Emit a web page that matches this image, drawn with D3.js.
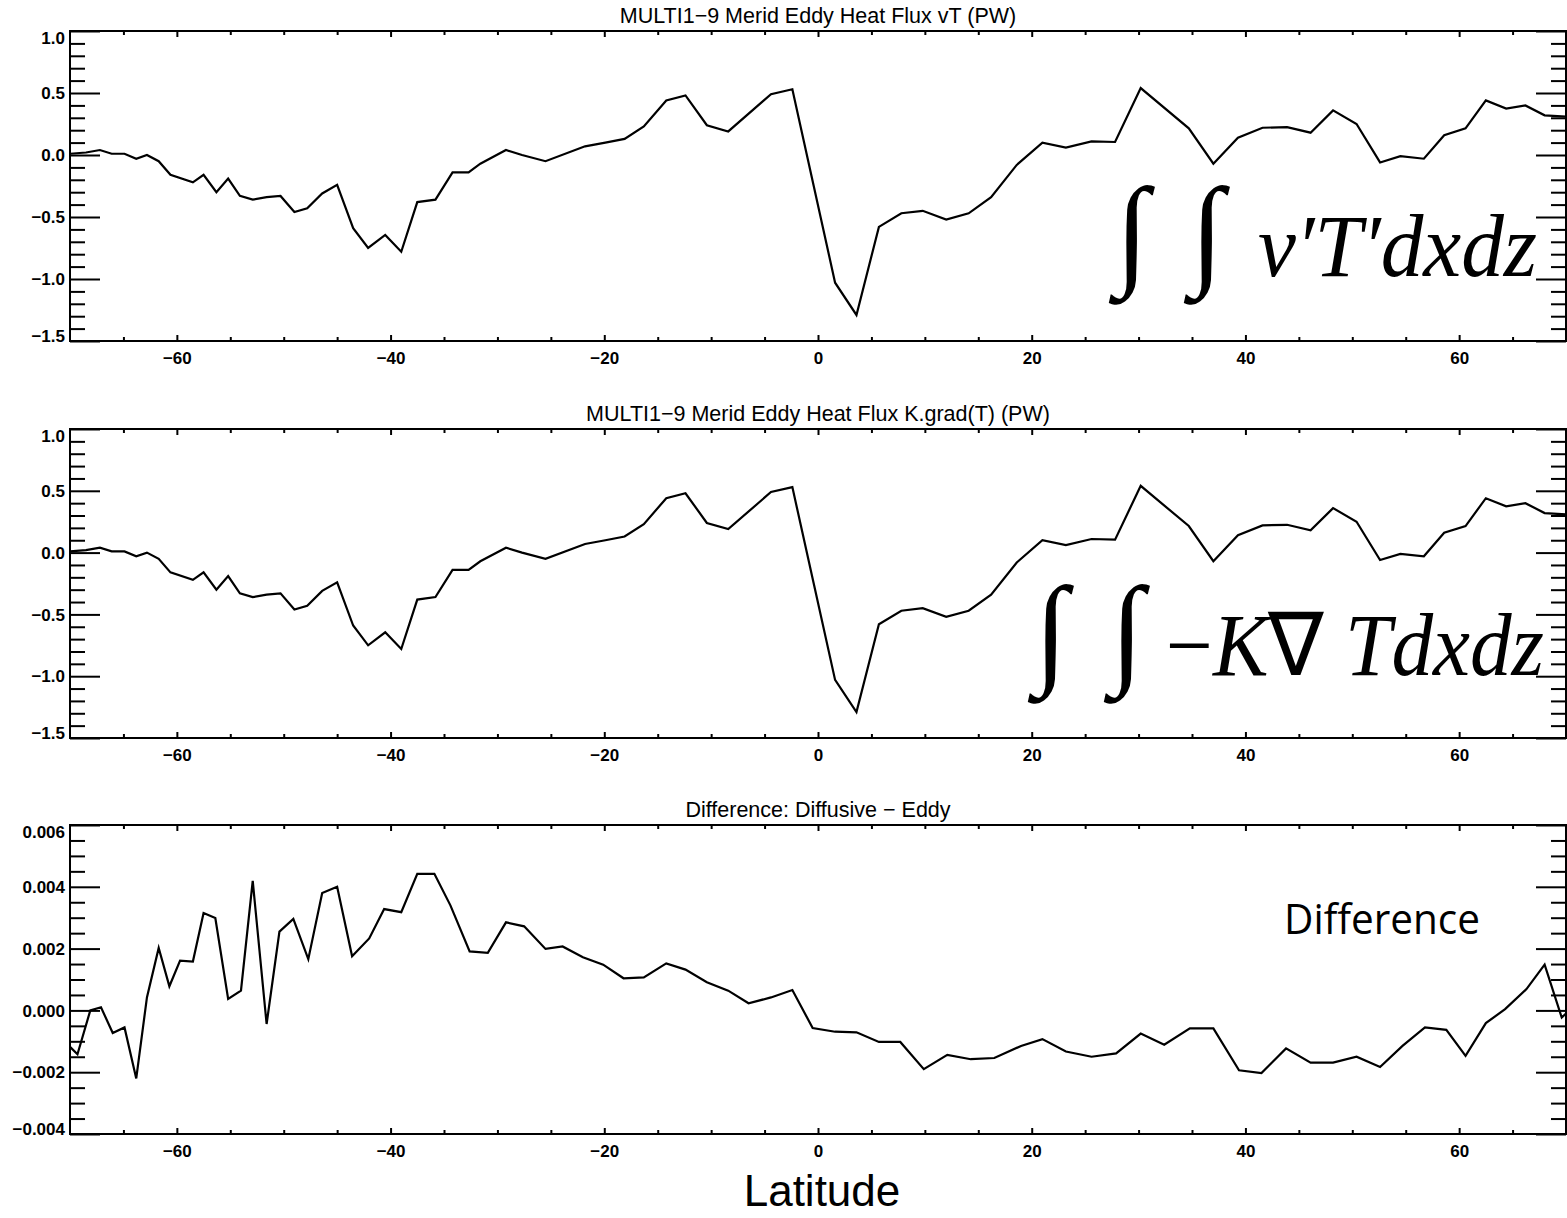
<!DOCTYPE html>
<html>
<head>
<meta charset="utf-8">
<script src="https://cdn.jsdelivr.net/npm/d3@7"></script>
<style>
    body { margin: 0; background: #fff; }
    .domain { display: none; }
    .tick line { stroke: #000; stroke-width: 2px; }
    .tick text { font-family: "Liberation Sans", Arial, sans-serif; font-size: 17px; font-weight: bold; fill: #000; }
    .title { font-family: "Liberation Sans", Arial, sans-serif; font-size: 21.5px; fill: #000; }
    .formula { font-family: "Liberation Serif", "Times New Roman", serif; fill: #000; }
</style>
</head>
<body>
<div id="chart"></div>
<script>
// latitudes of the line vertices in the two flux panels
const fluxLat = [-70, -68.5, -67.2, -66.1, -64.9, -63.8, -62.8, -61.7, -60.6, -58.5, -57.5, -56.3, -55.2, -54.1,
    -52.9, -51.6, -50.3, -49.0, -47.8, -46.4, -45.0, -43.5, -42.1, -40.5, -39.0, -37.5, -35.8, -34.2, -32.7, -31.6,
    -29.2, -27.7, -25.5, -21.8, -19.9, -18.1, -16.3, -14.2, -12.4, -10.4, -8.4, -4.4, -2.4, -0.4, 1.6, 3.6, 5.7,
    7.8, 9.8, 12.0, 14.1, 16.2, 18.6, 21.0, 23.2, 25.6, 27.8, 30.2, 34.7, 37.0, 39.3, 41.6, 43.9, 46.1, 48.2, 50.4,
    52.6, 54.5, 56.7, 58.6, 60.6, 62.5, 64.4, 66.2, 68.0, 70.0];

const vtFlux = [0.01, 0.02, 0.04, 0.01, 0.01, -0.03, 0.0, -0.05, -0.16, -0.22, -0.16, -0.30, -0.19, -0.33,
    -0.36, -0.34, -0.33, -0.46, -0.43, -0.31, -0.24, -0.59, -0.75, -0.645, -0.78, -0.38, -0.36, -0.14, -0.14, -0.07,
    0.04, 0.0, -0.05, 0.07, 0.10, 0.13, 0.23, 0.44, 0.48, 0.24, 0.19, 0.49, 0.53, -0.25, -1.03, -1.29, -0.58,
    -0.47, -0.45, -0.52, -0.47, -0.34, -0.08, 0.10, 0.06, 0.11, 0.105, 0.54, 0.215, -0.07, 0.14, 0.22, 0.225, 0.18,
    0.36, 0.25, -0.06, -0.01, -0.03, 0.16, 0.215, 0.44, 0.375, 0.40, 0.32, 0.31];

// K.grad(T) flux: indistinguishable from vT at this scale
const kgradFlux = [0.01, 0.02, 0.04, 0.01, 0.01, -0.03, 0.0, -0.05, -0.16, -0.22, -0.16, -0.30, -0.19, -0.33,
    -0.36, -0.34, -0.33, -0.46, -0.43, -0.31, -0.24, -0.59, -0.75, -0.645, -0.78, -0.38, -0.36, -0.14, -0.14, -0.07,
    0.04, 0.0, -0.05, 0.07, 0.10, 0.13, 0.23, 0.44, 0.48, 0.24, 0.19, 0.49, 0.53, -0.25, -1.03, -1.29, -0.58,
    -0.47, -0.45, -0.52, -0.47, -0.34, -0.08, 0.10, 0.06, 0.11, 0.105, 0.54, 0.215, -0.07, 0.14, 0.22, 0.225, 0.18,
    0.36, 0.25, -0.06, -0.01, -0.03, 0.16, 0.215, 0.44, 0.375, 0.40, 0.32, 0.31];

const diffLat = [-70.0, -69.3, -68.1, -67.1, -66.0, -64.9, -63.8, -62.8, -61.7, -60.7, -59.7, -58.5, -57.5,
    -56.4, -55.2, -54.0, -52.9, -51.6, -50.4, -49.1, -47.7, -46.4, -45.0, -43.6, -42.0, -40.6, -39.0, -37.5, -35.9,
    -34.4, -32.6, -30.9, -29.2, -27.5, -25.5, -23.9, -22.0, -20.1, -18.2, -16.3, -14.2, -12.4, -10.4, -8.4, -6.5,
    -4.4, -2.4, -0.5, 1.6, 3.6, 5.7, 7.7, 9.9, 12.1, 14.3, 16.5, 19.0, 21.0, 23.2, 25.6, 27.9, 30.2, 32.4, 34.8,
    37.0, 39.4, 41.5, 43.8, 46.1, 48.2, 50.4, 52.6, 54.7, 56.8, 58.8, 60.6, 62.5, 64.3, 66.3, 68.0, 69.6, 70.0];

const diffFlux = [-0.00118, -0.00142, 0.0, 0.0001, -0.00073, -0.00055, -0.0022, 0.00042, 0.00202, 0.00078,
    0.00161, 0.00158, 0.00315, 0.00299, 0.00037, 0.00064, 0.00419, -0.00044, 0.00255, 0.00296, 0.00166, 0.0038,
    0.004, 0.00175, 0.00233, 0.00328, 0.00318, 0.00442, 0.00442, 0.0034, 0.00191, 0.00186, 0.00285, 0.00272,
    0.00199, 0.00207, 0.00172, 0.00148, 0.00104, 0.00107, 0.00152, 0.00132, 0.00091, 0.00064, 0.00023, 0.00042,
    0.00066, -0.00057, -0.00069, -0.00071, -0.00102, -0.00102, -0.0019, -0.00144, -0.00158, -0.00154, -0.00115,
    -0.00093, -0.00133, -0.0015, -0.00139, -0.00075, -0.00111, -0.00058, -0.00058, -0.00194, -0.00203, -0.00123,
    -0.00169, -0.00169, -0.0015, -0.00183, -0.00115, -0.00055, -0.00063, -0.00147, -0.00041, 0.00004, 0.00069,
    0.00148, -0.00023, -0.0001];

const latTicks = [-60, -40, -20, 0, 20, 40, 60];
const latMinorTicks = [-65, -55, -50, -45, -35, -30, -25, -15, -10, -5, 5, 10, 15, 25, 30, 35, 45, 50, 55, 65];
const fluxTicks = [-1.5, -1.0, -0.5, 0.0, 0.5, 1.0];
const diffTicks = [-0.004, -0.002, 0.000, 0.002, 0.004, 0.006];

const titles = [
    "MULTI1\u22129 Merid Eddy Heat Flux vT (PW)",
    "MULTI1\u22129 Merid Eddy Heat Flux K.grad(T) (PW)",
    "Difference: Diffusive \u2212 Eddy"
];

const width = 1567;
const height = 1218;
const left = 70;
const right = 1566;

const svg = d3.select("#chart")
    .append("svg")
    .attr("width", width)
    .attr("height", height);

svg.append("rect").attr("width", width).attr("height", height).attr("fill", "#fff");

const x = d3.scaleLinear().domain([-70, 70]).range([left, right]);

function drawPanel(p) {
    const y = d3.scaleLinear().domain(p.domain).range([p.bottom, p.top]);
    const g = svg.append("g");
    const fmt = d3.format(p.fmt);

    // x axes (bottom labelled, top ticks only), ticks pointing inward
    g.append("g")
        .attr("transform", `translate(0,${p.bottom})`)
        .call(d3.axisBottom(x).tickValues(latTicks).tickSizeInner(-6).tickSizeOuter(0)
            .tickPadding(11).tickFormat(d3.format("d")));
    g.append("g")
        .attr("transform", `translate(0,${p.bottom})`)
        .call(d3.axisBottom(x).tickValues(latMinorTicks).tickSizeInner(-4).tickSizeOuter(0).tickFormat(""));
    g.append("g")
        .attr("transform", `translate(0,${p.top})`)
        .call(d3.axisTop(x).tickValues(latTicks).tickSizeInner(-6).tickSizeOuter(0).tickFormat(""));
    g.append("g")
        .attr("transform", `translate(0,${p.top})`)
        .call(d3.axisTop(x).tickValues(latMinorTicks).tickSizeInner(-4).tickSizeOuter(0).tickFormat(""));

    // y axes
    const yLab = g.append("g")
        .attr("transform", `translate(${left},0)`)
        .call(d3.axisLeft(y).tickValues(p.ticks).tickSizeInner(-30).tickSizeOuter(0)
            .tickPadding(5).tickFormat(fmt));
    yLab.selectAll(".tick text")
        .attr("dy", (d, i, n) => i === n.length - 1 ? "0.74em" : (i === 0 ? "0em" : "0.34em"));
    g.append("g")
        .attr("transform", `translate(${left},0)`)
        .call(d3.axisLeft(y).tickValues(p.minor).tickSizeInner(-15).tickSizeOuter(0).tickFormat(""));
    g.append("g")
        .attr("transform", `translate(${right},0)`)
        .call(d3.axisRight(y).tickValues(p.ticks).tickSizeInner(-30).tickSizeOuter(0).tickFormat(""));
    g.append("g")
        .attr("transform", `translate(${right},0)`)
        .call(d3.axisRight(y).tickValues(p.minor).tickSizeInner(-15).tickSizeOuter(0).tickFormat(""));

    g.append("rect")
        .attr("x", left)
        .attr("y", p.top)
        .attr("width", right - left)
        .attr("height", p.bottom - p.top)
        .attr("fill", "none")
        .attr("stroke", "#000")
        .attr("stroke-width", 2);

    const line = d3.line()
        .x((d, i) => x(p.lat[i]))
        .y(d => y(d));

    g.append("path")
        .datum(p.values)
        .attr("fill", "none")
        .attr("stroke", "#000")
        .attr("stroke-width", 2.2)
        .attr("stroke-linejoin", "miter")
        .attr("d", line);

    g.append("text")
        .attr("class", "title")
        .attr("x", (left + right) / 2)
        .attr("y", p.top - 8)
        .attr("text-anchor", "middle")
        .text(p.title);

    return g;
}

const fluxMinor = d3.range(-1.4, 1.0, 0.1).filter(v => Math.abs(v * 2 - Math.round(v * 2)) > 0.01);
const diffMinor = d3.range(-0.0035, 0.006, 0.0005).filter(v => Math.abs(v * 500 - Math.round(v * 500)) > 0.01);

const g1 = drawPanel({ top: 31, bottom: 341, domain: [-1.5, 1.0], ticks: fluxTicks, minor: fluxMinor,
    fmt: ".1f", lat: fluxLat, values: vtFlux, title: titles[0] });
const g2 = drawPanel({ top: 429, bottom: 738, domain: [-1.5, 1.0], ticks: fluxTicks, minor: fluxMinor,
    fmt: ".1f", lat: fluxLat, values: kgradFlux, title: titles[1] });
const g3 = drawPanel({ top: 825, bottom: 1134, domain: [-0.004, 0.006], ticks: diffTicks, minor: diffMinor,
    fmt: ".3f", lat: diffLat, values: diffFlux, title: titles[2] });

// formula annotations
function integrals(g, xs, yBase) {
    xs.forEach(xi => {
        g.append("text")
            .attr("class", "formula")
            .attr("x", xi)
            .attr("y", yBase)
            .attr("text-anchor", "middle")
            .attr("font-size", 122)
            .text("\u222B");
    });
}

integrals(g1, [1132, 1207], 272);
g1.append("text")
    .attr("class", "formula")
    .attr("x", 1258)
    .attr("y", 276)
    .attr("font-size", 88)
    .attr("font-style", "italic")
    .attr("textLength", 279)
    .attr("lengthAdjust", "spacingAndGlyphs")
    .text("v\u2032T\u2032dxdz");

integrals(g2, [1051, 1127], 671);
const f2 = g2.append("text")
    .attr("class", "formula")
    .attr("x", 1166)
    .attr("y", 675)
    .attr("font-size", 88)
    .attr("textLength", 378)
    .attr("lengthAdjust", "spacingAndGlyphs");
f2.append("tspan").text("\u2212");
f2.append("tspan").attr("font-style", "italic").text("K");
f2.append("tspan").text("\u2207 ");
f2.append("tspan").attr("font-style", "italic").text("Tdxdz");

g3.append("text")
    .attr("x", 1284)
    .attr("y", 934)
    .attr("font-family", "'Open Sans', 'Noto Sans', sans-serif")
    .attr("font-size", 42)
    .attr("textLength", 196)
    .attr("lengthAdjust", "spacingAndGlyphs")
    .text("Difference");

svg.append("text")
    .attr("x", 822)
    .attr("y", 1206)
    .attr("text-anchor", "middle")
    .attr("font-family", "'Liberation Sans', Arial, sans-serif")
    .attr("font-size", 44)
    .text("Latitude");
</script>
</body>
</html>
